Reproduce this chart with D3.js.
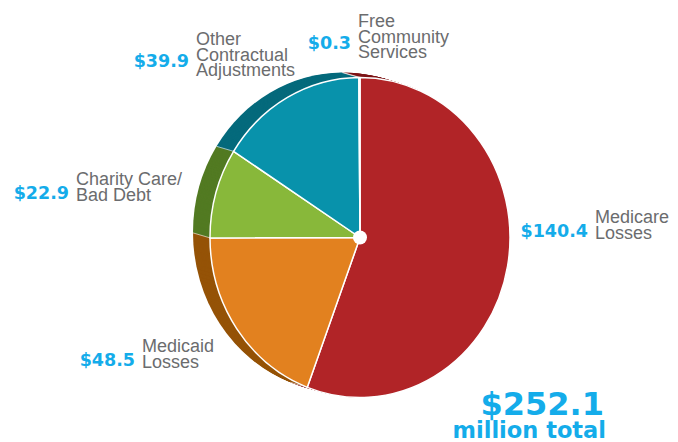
<!DOCTYPE html>
<html>
<head>
  <title>Community Benefit Pie</title>
  <script src="https://d3js.org/d3.v7.min.js"></script>
</head>

<body style="margin:0px; overflow:hidden; background:#fff;">
  <svg id="myPlot" width="678" height="442"></svg>

  <script>
    // Data (million $)
    const categories = ["Medicare Losses", "Medicaid Losses", "Charity Care/Bad Debt", "Other Contractual Adjustments", "Free Community Services"];
    const values = [140.4, 48.5, 22.9, 39.9, 0.3];
    const labelLines = [["Medicare", "Losses"], ["Medicaid", "Losses"], ["Charity Care/", "Bad Debt"], ["Other", "Contractual", "Adjustments"], ["Free", "Community", "Services"]];
    const valueLabels = ["$140.4", "$48.5", "$22.9", "$39.9", "$0.3"];
    const totalLabel = ["$252.1", "million total"];

    // Colours
    const front = ["#b12427", "#e2811f", "#88b83a", "#0892ab", "#9c9c9c"];
    const side  = ["#7e1517", "#955307", "#527a22", "#056a7c", "#6a6a6a"];

    // Set Dimensions
    const cx = 360, cy = 237.5;
    const radius = 150;
    const squash = 1.067;           // front face is a bit taller than wide
    const depthX = -17, depthY = -5; // extrusion towards upper left (px)
    const layers = 17;

    const svg = d3.select("#myPlot");

    const pie = d3.pie().sort(null).value(d => d);
    const arcs = pie(values);
    const arc = d3.arc().innerRadius(0).outerRadius(radius);

    const g = svg.append("g")
      .attr("transform", "translate(" + cx + "," + cy + ") scale(1," + squash + ")");

    // Side (extrusion) layers, back to front
    for (let k = layers; k >= 1; k--) {
      const ox = depthX * k / layers;
      const oy = depthY / squash * k / layers;
      g.append("g")
        .attr("transform", "translate(" + ox + "," + oy + ")")
        .selectAll("path")
        .data(arcs).enter()
        .append("path")
        .attr("d", arc)
        .style("fill", (d, i) => side[i]);
    }

    // light seams on the side between slices
    g.append("g")
      .selectAll("line")
      .data(arcs).enter()
      .append("line")
      .attr("x1", d => radius * Math.sin(d.startAngle))
      .attr("y1", d => -radius * Math.cos(d.startAngle))
      .attr("x2", d => radius * Math.sin(d.startAngle) + depthX)
      .attr("y2", d => -radius * Math.cos(d.startAngle) + depthY / squash)
      .attr("vector-effect", "non-scaling-stroke")
      .style("stroke", "#ffffff")
      .style("stroke-opacity", 0.6)
      .style("stroke-width", 1);

    // Front faces
    g.append("g")
      .selectAll("path")
      .data(arcs).enter()
      .append("path")
      .attr("d", arc)
      .attr("vector-effect", "non-scaling-stroke")
      .style("fill", (d, i) => front[i])
      .style("stroke", "#ffffff")
      .style("stroke-width", 1.5)
      .style("stroke-linejoin", "round");

    // centre dot
    svg.append("circle")
      .attr("cx", cx).attr("cy", cy).attr("r", 7)
      .style("fill", "#ffffff");

    // Labels: [x of text start, baseline of first line]
    const labelPos = [[595, 223], [142, 352], [76, 185], [196, 45], [358, 27]];
    const lineH = 15.5;
    const grey = "#6b6c6e";
    const blue = "#14acea";

    labelLines.forEach((lines, i) => {
      const [x, y] = labelPos[i];
      const t = svg.append("text")
        .attr("x", x).attr("y", y)
        .style("font-family", "Liberation Sans, Arial, sans-serif")
        .style("font-size", "18px")
        .style("fill", grey);
      lines.forEach((s, j) => {
        t.append("tspan").attr("x", x).attr("y", y + j * lineH).text(s);
      });
      const mid = y + (lines.length - 1) * lineH / 2;
      svg.append("text")
        .attr("x", x - 7).attr("y", mid + 6)
        .attr("text-anchor", "end")
        .style("font-family", "DejaVu Sans")
        .style("font-weight", "bold")
        .style("font-size", "17.5px")
        .style("fill", blue)
        .text(valueLabels[i]);
    });

    // Total
    svg.append("text")
      .attr("x", 604).attr("y", 415)
      .attr("text-anchor", "end")
      .style("font-family", "DejaVu Sans")
      .style("font-weight", "bold")
      .style("font-size", "32px")
      .style("fill", blue)
      .text(totalLabel[0]);
    svg.append("text")
      .attr("x", 606).attr("y", 438)
      .attr("text-anchor", "end")
      .style("font-family", "DejaVu Sans")
      .style("font-weight", "bold")
      .style("font-size", "22.5px")
      .style("fill", blue)
      .text(totalLabel[1]);
  </script>
</body>
</html>
